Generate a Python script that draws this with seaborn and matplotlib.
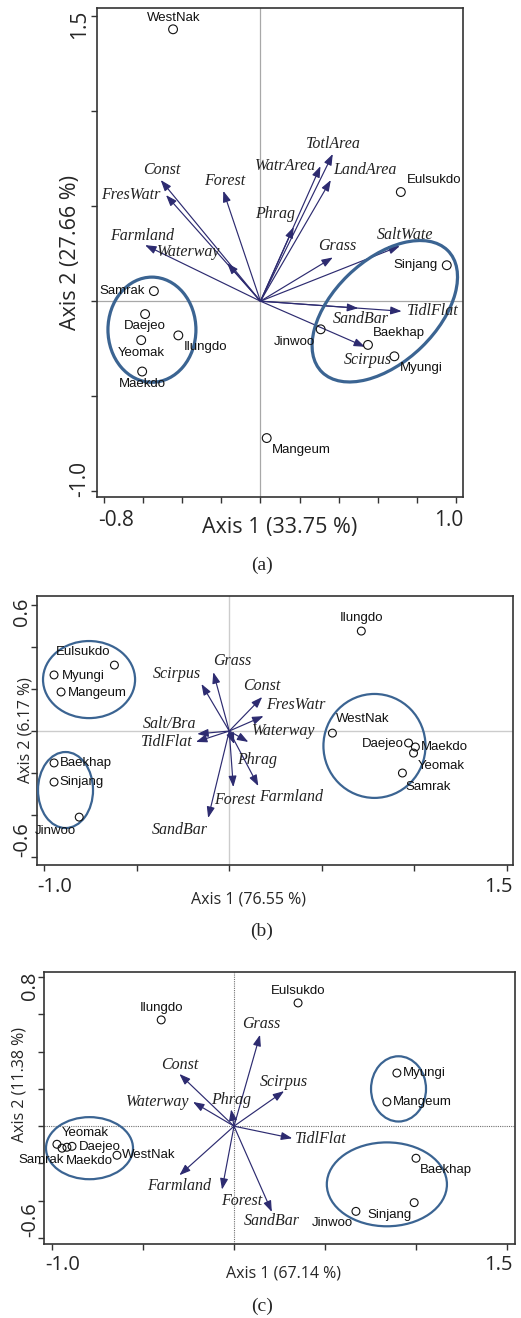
import numpy as np
import pandas as pd
import matplotlib
matplotlib.use("Agg")
import matplotlib.pyplot as plt
from matplotlib.patches import Ellipse
import seaborn as sns

sns.set_style("ticks")
plt.rcParams['font.family'] = ['Liberation Sans', 'DejaVu Sans']

# ---------------- DATA ----------------
# Panel (a)
A_SITES = ["WestNak", "Eulsukdo", "Sinjang", "Samrak", "Daejeo", "Ilungdo",
           "Yeomak", "Maekdo", "Jinwoo", "Baekhap", "Myungi", "Mangeum"]
A_SITE_X = [-0.447, 0.718, 0.953, -0.545, -0.59, -0.42, -0.61, -0.605, 0.308, 0.55, 0.685, 0.032]
A_SITE_Y = [1.43, 0.574, 0.189, 0.053, -0.068, -0.18, -0.205, -0.37, -0.148, -0.23, -0.29, -0.72]
A_VARS = ["Const", "FresWatr", "Forest", "Farmland", "Waterway", "TotlArea", "WatrArea",
          "LandArea", "Phrag", "Grass", "SaltWate", "TidlFlat", "SandBar", "Scirpus"]
A_VAR_X = [-0.51, -0.483, -0.19, -0.59, -0.17, 0.37, 0.307, 0.36, 0.17, 0.37, 0.713, 0.722, 0.5, 0.535]
A_VAR_Y = [0.637, 0.558, 0.58, 0.295, 0.2, 0.774, 0.71, 0.637, 0.39, 0.23, 0.29, -0.053, -0.037, -0.24]
A_XLABEL = "Axis 1 (33.75 %)"
A_YLABEL = "Axis 2 (27.66 %)"
A_XTICKLABELS = ["-0.8", "1.0"]
A_YTICKLABELS = ["-1.0", "1.5"]
A_CAPTION = "(a)"

# Panel (b)
B_SITES = ["Eulsukdo", "Myungi", "Mangeum", "Baekhap", "Sinjang", "Jinwoo",
           "Ilungdo", "WestNak", "Daejeo", "Maekdo", "Yeomak", "Samrak"]
B_SITE_X = [-0.62, -0.946, -0.908, -0.946, -0.946, -0.81, 0.713, 0.557, 0.968, 1.005, 0.995, 0.935]
B_SITE_Y = [0.314, 0.267, 0.186, -0.152, -0.243, -0.41, 0.476, -0.01, -0.057, -0.076, -0.105, -0.2]
B_VARS = ["Grass", "Scirpus", "Const", "FresWatr", "Waterway", "Salt/Bra", "TidlFlat",
          "Phrag", "Forest", "Farmland", "SandBar"]
B_VAR_X = [-0.086, -0.15, 0.178, 0.185, 0.103, -0.173, -0.18, 0.027, 0.022, 0.157, -0.114]
B_VAR_Y = [0.28, 0.224, 0.162, 0.071, -0.052, -0.014, -0.052, -0.062, -0.267, -0.262, -0.414]
B_XLABEL = "Axis 1 (76.55 %)"
B_YLABEL = "Axis 2 (6.17 %)"
B_XTICKLABELS = ["-1.0", "1.5"]
B_YTICKLABELS = ["-0.6", "0.6"]
B_CAPTION = "(b)"

# Panel (c)
C_SITES = ["Ilungdo", "Eulsukdo", "Myungi", "Mangeum", "Baekhap", "Sinjang", "Jinwoo",
           "Yeomak", "Samrak", "Maekdo", "Daejeo", "WestNak"]
C_SITE_X = [-0.40, 0.352, 0.895, 0.84, 1.0, 0.99, 0.67, -0.973, -0.945, -0.918, -0.89, -0.643]
C_SITE_Y = [0.57, 0.661, 0.285, 0.13, -0.172, -0.41, -0.457, -0.097, -0.118, -0.113, -0.108, -0.156]
C_VARS = ["Grass", "Const", "Waterway", "Phrag", "Scirpus", "TidlFlat", "Farmland", "Forest", "SandBar"]
C_VAR_X = [0.143, -0.30, -0.225, -0.016, 0.275, 0.32, -0.30, -0.066, 0.208]
C_VAR_Y = [0.49, 0.28, 0.13, 0.09, 0.188, -0.065, -0.263, -0.34, -0.46]
C_XLABEL = "Axis 1 (67.14 %)"
C_YLABEL = "Axis 2 (11.38 %)"
C_XTICKLABELS = ["-1.0", "1.5"]
C_YTICKLABELS = ["-0.6", "0.8"]
C_CAPTION = "(c)"

# ---------------- LAYOUT / STYLE ----------------
ARROW_COLOR = "#2d2b70"
ELL_COLOR = "#3b6492"
AXIS_FONT = "Open Sans"
SERIF = "Liberation Serif"

A_SITE_OFF = {"WestNak": (1, 11), "Eulsukdo": (33, 12), "Sinjang": (-31, 0), "Samrak": (-32, 0),
              "Daejeo": (0, -12), "Ilungdo": (27, -12), "Yeomak": (0, -13), "Maekdo": (0, -12),
              "Jinwoo": (-26, -13), "Baekhap": (31, 12), "Myungi": (27, -12), "Mangeum": (35, -12)}
A_VAR_OFF = {"Const": (1, 10), "FresWatr": (-35, 0), "Forest": (1, 10), "Farmland": (-3, 9),
             "Waterway": (-39, 11), "TotlArea": (1, 10), "WatrArea": (-35, 0), "LandArea": (34, 10),
             "Phrag": (-19, 13), "Grass": (4, 11), "SaltWate": (5, 11), "TidlFlat": (31, 0),
             "SandBar": (3, -11), "Scirpus": (3, -13)}
B_SITE_OFF = {"Eulsukdo": (-31, 13), "Myungi": (29, -1), "Mangeum": (36, -1), "Baekhap": (32, 0),
              "Sinjang": (28, 0), "Jinwoo": (-24, -14), "Ilungdo": (0, 13), "WestNak": (30, 14),
              "Daejeo": (-26, -1), "Maekdo": (29, 0), "Yeomak": (28, -13), "Samrak": (26, -14)}
B_VAR_OFF = {"Grass": (19, 11), "Scirpus": (-25, 10), "Const": (0, 11), "FresWatr": (32, 11),
             "Waterway": (35, 11), "Salt/Bra": (-28, 10), "TidlFlat": (-29, 0), "Phrag": (23, -16),
             "Forest": (1, -13), "Farmland": (33, -11), "SandBar": (-28, -12)}
C_SITE_OFF = {"Ilungdo": (0, 12), "Eulsukdo": (0, 12), "Myungi": (27, 0), "Mangeum": (35, 0),
              "Baekhap": (30, -12), "Sinjang": (-25, -12), "Jinwoo": (-24, -12), "Yeomak": (28, 11),
              "Samrak": (-21, -12), "Maekdo": (22, -14), "Daejeo": (28, -1), "WestNak": (32, 0)}
C_VAR_OFF = {"Grass": (1, 11), "Const": (0, 9), "Waterway": (-35, 0), "Phrag": (0, 9),
             "Scirpus": (0, 9), "TidlFlat": (29, -1), "Farmland": (0, -11), "Forest": (20, -11),
             "SandBar": (0, -9)}

PANELS = [
    dict(sx=A_SITE_X, sy=A_SITE_Y, sn=A_SITES, vx=A_VAR_X, vy=A_VAR_Y, vn=A_VARS,
         soff=A_SITE_OFF, voff=A_VAR_OFF, xlabel=A_XLABEL, ylabel=A_YLABEL,
         xtl=A_XTICKLABELS, ytl=A_YTICKLABELS, caption=A_CAPTION,
         rect=[97, 8, 463, 497], xlim=(-0.836, 1.036), ylim=(-1.03, 1.542),
         xticks=np.arange(-0.8, 1.01, 0.2), yticks=np.arange(-1.0, 1.51, 0.5),
         ells=[((-0.555, -0.15), 0.45, 0.553, 0), ((0.636, -0.053), 0.907, 0.533, 45)],
         ell_lw=2.3, ms=40, lab_fs=15.5, tick_fs=15, xlab_pos=(0.5, -20), ylab_pos=(-16, 0.5),
         xt_off=(1, -13, 0, -13), yt_off=(-7, 0, -7, -2), cap_y=565,
         cline=dict(color="#a8a8a8", lw=0.9, ls="-")),
    dict(sx=B_SITE_X, sy=B_SITE_Y, sn=B_SITES, vx=B_VAR_X, vy=B_VAR_Y, vn=B_VARS,
         soff=B_SITE_OFF, voff=B_VAR_OFF, xlabel=B_XLABEL, ylabel=B_YLABEL,
         xtl=B_XTICKLABELS, ytl=B_YTICKLABELS, caption=B_CAPTION,
         rect=[37, 596, 513, 865], xlim=(-1.038, 1.532), ylim=(-0.638, 0.643),
         xticks=np.arange(-1.0, 1.51, 0.5), yticks=np.arange(-0.6, 0.61, 0.2),
         ells=[((-0.757, 0.245), 0.497, 0.367, 0), ((-0.884, -0.281), 0.297, 0.362, 0),
               ((0.784, -0.071), 0.551, 0.495, 0)],
         ell_lw=1.6, ms=32, lab_fs=11.5, tick_fs=14.5, xlab_pos=(0.445, -27), ylab_pos=(-3, 0.5),
         xt_off=(0, -12, 0, -12), yt_off=(-5, 8, -5, -2), cap_y=931,
         cline=dict(color="#cccccc", lw=1.0, ls="-")),
    dict(sx=C_SITE_X, sy=C_SITE_Y, sn=C_SITES, vx=C_VAR_X, vy=C_VAR_Y, vn=C_VARS,
         soff=C_SITE_OFF, voff=C_VAR_OFF, xlabel=C_XLABEL, ylabel=C_YLABEL,
         xtl=C_XTICKLABELS, ytl=C_YTICKLABELS, caption=C_CAPTION,
         rect=[44, 972, 515, 1244], xlim=(-1.044, 1.544), ylim=(-0.632, 0.827),
         xticks=np.arange(-1.0, 1.51, 0.5), yticks=np.arange(-0.6, 0.81, 0.2),
         ells=[((-0.794, -0.118), 0.478, 0.333, 0), ((0.904, 0.2), 0.302, 0.35, 0),
               ((0.84, -0.312), 0.66, 0.45, 0)],
         ell_lw=1.6, ms=32, lab_fs=11.5, tick_fs=14.5, xlab_pos=(0.508, -21), ylab_pos=(-16, 0.586),
         xt_off=(1, -11, -2, -11), yt_off=(-4, 7, -4, 0), cap_y=1306,
         cline=dict(color="#707070", lw=0.8, ls=(0, (1, 1)))),
]

W, H = 521, 1318
fig = plt.figure(figsize=(W / 100, H / 100), dpi=100)

for p in PANELS:
    l, t, r, b = p["rect"]
    ax = fig.add_axes([l / W, 1 - b / H, (r - l) / W, (b - t) / H])
    ax.set_xlim(*p["xlim"])
    ax.set_ylim(*p["ylim"])
    ax.axhline(0, zorder=0.5, **p["cline"])
    ax.axvline(0, zorder=0.5, **p["cline"])

    # vectors
    for name, x, y in zip(p["vn"], p["vx"], p["vy"]):
        ax.annotate("", xy=(x, y), xytext=(0, 0),
                    arrowprops=dict(arrowstyle="-|>,head_length=0.55,head_width=0.2",
                                    color=ARROW_COLOR, lw=0.85, shrinkA=0, shrinkB=0,
                                    mutation_scale=12), zorder=2)
        dx, dy = p["voff"][name]
        ax.annotate(name, xy=(x, y), xytext=(dx, dy), textcoords="offset pixels",
                    ha="center", va="center", fontsize=11.5, family=SERIF, style="italic",
                    color="#222222", zorder=6)

    # ellipses
    for (cx, cy), w, h, ang in p["ells"]:
        ax.add_patch(Ellipse((cx, cy), w, h, angle=ang, fill=False, ec=ELL_COLOR,
                             lw=p["ell_lw"], zorder=3))

    # sites
    df = pd.DataFrame({"x": p["sx"], "y": p["sy"], "site": p["sn"]})
    sns.scatterplot(data=df, x="x", y="y", ax=ax, s=p["ms"], marker="o",
                    facecolor="none", edgecolor="#111111", linewidth=0.8,
                    zorder=5, legend=False)
    ax.collections[-1].set_facecolor("none")
    for name, x, y in zip(p["sn"], p["sx"], p["sy"]):
        dx, dy = p["soff"][name]
        ax.annotate(name, xy=(x, y), xytext=(dx, dy), textcoords="offset pixels",
                    ha="center", va="center", fontsize=9.5, color="#111111", zorder=6)

    # ticks
    ax.set_xticks(p["xticks"])
    ax.set_yticks(p["yticks"])
    ax.set_xticklabels([])
    ax.set_yticklabels([])
    ax.tick_params(direction="out", length=4, width=1, color="#333333")
    for s in ax.spines.values():
        s.set_color("#333333")
        s.set_linewidth(1.2)

    # end tick labels
    x0, y0, x1, y1 = p["xt_off"]
    ax.annotate(p["xtl"][0], xy=(0, 0), xycoords="axes fraction", xytext=(x0, y0),
                textcoords="offset pixels", ha="left", va="top", fontsize=p["tick_fs"],
                family=AXIS_FONT)
    ax.annotate(p["xtl"][1], xy=(1, 0), xycoords="axes fraction", xytext=(x1, y1),
                textcoords="offset pixels", ha="right", va="top", fontsize=p["tick_fs"],
                family=AXIS_FONT)
    a0, b0, a1, b1 = p["yt_off"]
    ax.annotate(p["ytl"][0], xy=(0, 0), xycoords="axes fraction", xytext=(a0, b0),
                textcoords="offset pixels", ha="right", va="bottom", rotation=90,
                fontsize=p["tick_fs"], family=AXIS_FONT)
    ax.annotate(p["ytl"][1], xy=(0, 1), xycoords="axes fraction", xytext=(a1, b1),
                textcoords="offset pixels", ha="right", va="top", rotation=90,
                fontsize=p["tick_fs"], family=AXIS_FONT)

    # axis titles
    ax.set_xlabel(p["xlabel"], fontsize=p["lab_fs"], family=AXIS_FONT)
    ax.set_ylabel(p["ylabel"], fontsize=p["lab_fs"], family=AXIS_FONT)
    ax.xaxis.set_label_coords(p["xlab_pos"][0], p["xlab_pos"][1] / (b - t))
    ax.yaxis.set_label_coords(p["ylab_pos"][0] / (r - l), p["ylab_pos"][1])

    fig.text(262 / W, 1 - p["cap_y"] / H, p["caption"], ha="center", va="center",
             fontsize=14, family=SERIF)

fig.savefig("out.png", dpi=100)
